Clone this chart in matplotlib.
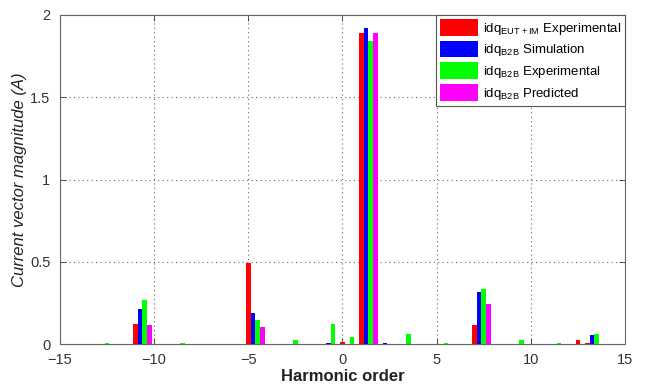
import matplotlib
matplotlib.use("Agg")
import matplotlib.pyplot as plt
from matplotlib.ticker import FormatStrFormatter

plt.rcParams.update({
    "font.family": ["Liberation Sans", "DejaVu Sans"],
    "mathtext.fontset": "custom",
    "mathtext.rm": "Liberation Sans",
    "xtick.direction": "in",
    "ytick.direction": "in",
})

# Harmonic spectra, one array per series (harmonic order -> magnitude in A)
eut_h = [-11, -5.5, -5, -1, 0, 1, 7, 12.5, 13]
eut_mag = [0.124, 0.004, 0.494, 0.005, 0.016, 1.89, 0.12, 0.026, 0.008]

sim_h = [-11, -5, -4, -3, -2, -1, 0, 2, 3, 4, 1, 7, 13]
sim_mag = [0.215, 0.189, 0.004, 0.005, 0.005, 0.006, 0.005, 0.006, 0.005, 0.004,
           1.92, 0.32, 0.058]

exp_h = [-15, -13, -11, -9, -7, -5, -3, -1, 0, 1, 3, 5, 6, 7, 9, 11, 13]
exp_mag = [0.004, 0.01, 0.27, 0.008, 0.005, 0.148, 0.026, 0.124, 0.046, 1.84,
           0.063, 0.006, 0.004, 0.334, 0.028, 0.008, 0.06]

pred_h = [-11, -5, 1, 7, 13]
pred_mag = [0.118, 0.104, 1.89, 0.243, 0.005]

series = [
    (eut_h, eut_mag, "#ff0000", r"idq$_{\mathregular{EUT+IM}}$ Experimental"),
    (sim_h, sim_mag, "#0000ff", r"idq$_{\mathregular{B2B}}$ Simulation"),
    (exp_h, exp_mag, "#00ff00", r"idq$_{\mathregular{B2B}}$ Experimental"),
    (pred_h, pred_mag, "#ff00ff", r"idq$_{\mathregular{B2B}}$ Predicted"),
]

fig = plt.figure(figsize=(6.45, 3.9), dpi=100)
ax = fig.add_axes([0.093, 0.117, 0.876, 0.845])

width = 0.25
for i, (h, mag, color, label) in enumerate(series):
    ax.bar([x + i * width for x in h], mag, width=width, color=color,
           label=label, zorder=3)

ax.set_xlim(-15, 15)
ax.set_ylim(0, 2)
ax.set_xticks(range(-15, 16, 5))
ax.set_yticks([0, 0.5, 1, 1.5, 2])
ax.yaxis.set_major_formatter(FormatStrFormatter("%g"))
ax.tick_params(labelsize=10.5, colors="#333333", top=True, right=True,
               length=4, width=0.6)
ax.tick_params(axis="x", pad=6)
ax.tick_params(axis="y", pad=7)
ax.grid(True, linestyle=(0, (1, 3)), color="#666666", linewidth=0.8)
for s in ax.spines.values():
    s.set_color("#666666")
    s.set_linewidth(0.8)

ax.set_xlabel("Harmonic order", fontsize=12, fontweight="bold",
              color="#222222", labelpad=2)
ax.set_ylabel("Current vector magnitude (A)", fontsize=12, style="italic",
              color="#222222", labelpad=2)

leg = ax.legend(loc="upper right", fontsize=9.5, fancybox=False,
                edgecolor="#555555", framealpha=1, borderaxespad=0,
                handlelength=2.9, handleheight=1.6, handletextpad=0.35,
                labelspacing=0.3, borderpad=0.3)
leg.get_frame().set_linewidth(0.8)

fig.savefig("out.png", dpi=100)
